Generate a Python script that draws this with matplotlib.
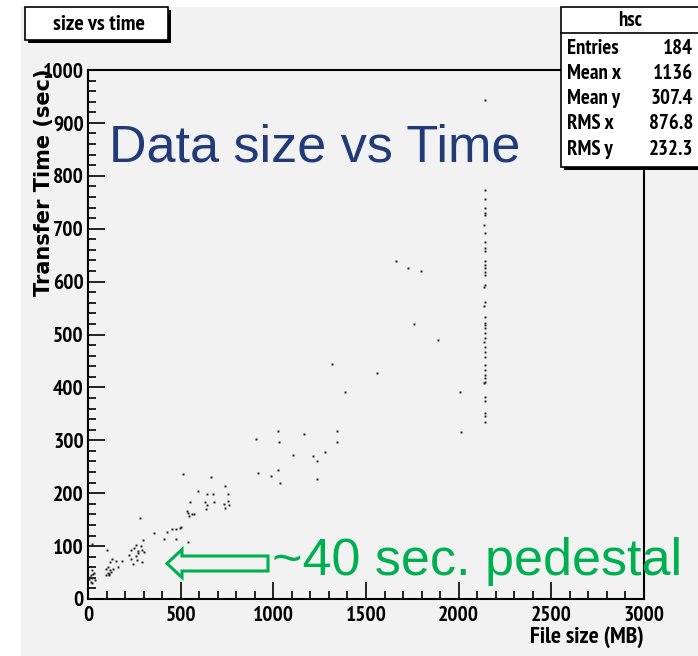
import numpy as np
import matplotlib
matplotlib.use("Agg")
import matplotlib.pyplot as plt
from matplotlib import font_manager
from matplotlib.font_manager import FontProperties
from matplotlib.patches import Rectangle, FancyArrow
import matplotlib.patheffects as pe

# titik data (file size MB, transfer time s)
low_x = [23, 34, 16, 29, 11, 20, 39, 14, 23, 5, 20, 103,
         131, 151, 183, 117, 162, 108, 135, 99, 119, 126, 106, 97, 112, 115,
         259, 286, 247, 234, 291, 268, 300, 272, 220, 257, 234, 266, 245, 291, 281, 299]
low_y = [55, 50, 45, 47, 41, 39, 36, 33, 31, 37, 104, 93,
         76, 72, 72, 70, 61, 61, 57, 56, 55, 51, 50, 45, 47, 45,
         103, 101, 97, 93, 93, 91, 88, 87, 83, 81, 76, 74, 66, 69, 154, 112]

mid_x = [356, 425, 453, 473, 496, 503, 410, 475, 540, 513, 664, 739, 594, 642, 675,
         755, 550, 631, 680, 642, 637, 755, 734, 761, 739, 534, 540, 563, 574, 545]
mid_y = [124, 127, 132, 132, 134, 136, 114, 113, 108, 236, 230, 214, 204, 198, 198,
         198, 183, 183, 183, 177, 171, 185, 180, 178, 172, 166, 162, 161, 161, 156]

high_x = [907, 917, 1024, 1164, 1342, 1029, 1342, 1277, 1105, 1213, 1234, 1024, 986,
          1034, 1234, 1315, 1558, 1387, 2006, 2011, 1660, 1725, 1795, 1758, 1887]
high_y = [302, 238, 318, 312, 318, 297, 297, 278, 273, 270, 260, 244, 233,
          220, 227, 445, 427, 392, 392, 315, 639, 625, 620, 519, 490]

col_x = [2142, 2141, 2143, 2140, 2142, 2141, 2139, 2141, 2143, 2141, 2142, 2140, 2143,
         2141, 2142, 2140, 2144, 2137, 2143, 2138, 2142, 2141, 2140, 2143, 2141, 2142,
         2139, 2141, 2143, 2142, 2141, 2140, 2142, 2141, 2144, 2139, 2142, 2141, 2143, 2141, 2142]
col_y = [943, 774, 756, 740, 729, 725, 707, 691, 675, 663, 658, 639, 631, 625, 619, 612,
         594, 589, 562, 553, 533, 521, 518, 512, 502, 493, 486, 477, 467, 458, 442, 433,
         423, 417, 411, 408, 382, 375, 352, 334, 345]

stat_names = ["Entries", "Mean x", "Mean y", "RMS x", "RMS y"]
stat_vals = ["184", "1136", "307.4", "876.8", "232.3"]


# cari font sempit tebal (gaya ROOT yang tergencet)
def cari(pred):
    for f in font_manager.fontManager.ttflist:
        if pred(f):
            return f.fname
    return None


def tebal(f):
    return str(f.weight) in ("700", "bold")


fn = cari(lambda f: "Narrow" in f.name and tebal(f))
efek = []
if fn is None:
    fn = cari(lambda f: "Narrow" in f.name)
    efek = [pe.withStroke(linewidth=0.9, foreground="black")]


def fp(size):
    if fn:
        return FontProperties(fname=fn, size=size)
    return FontProperties(family="DejaVu Sans", weight="bold", stretch="condensed", size=size)


W, H = 698, 656
bg = "#f2f2f2"


def fx(px):
    return px / W


def fy(py):
    return 1 - py / H


fig = plt.figure(figsize=(W / 100, H / 100), dpi=100, facecolor="white")
fig.patches.append(Rectangle((fx(21), 0), 1, fy(7), transform=fig.transFigure,
                             color=bg, zorder=-5))

ax = fig.add_axes([fx(88), fy(599), (644 - 88) / W, (599 - 70) / H])
ax.set_facecolor(bg)
for xs, ys in [(low_x, low_y), (mid_x, mid_y), (high_x, high_y), (col_x, col_y)]:
    ax.plot(xs, ys, "s", ms=1.4, color="#1a1a1a", mew=0)
ax.set_xlim(0, 3000)
ax.set_ylim(0, 1000)
ax.set_xticks(np.arange(0, 3001, 500))
ax.set_xticks(np.arange(0, 3001, 100), minor=True)
ax.set_yticks(np.arange(0, 1001, 100))
ax.set_yticks(np.arange(0, 1001, 20), minor=True)
ax.tick_params(which="both", direction="in", width=1.2)
ax.tick_params(which="major", length=12)
ax.tick_params(which="minor", length=6)
ax.tick_params(axis="y", pad=3)
ax.tick_params(axis="x", pad=5)
for lab in ax.get_xticklabels() + ax.get_yticklabels():
    lab.set_fontproperties(fp(15.5))
    lab.set_path_effects(efek)
for s in ax.spines.values():
    s.set_linewidth(1.5)

# label sumbu y: teks tegak terlihat memanjang, pakai huruf yang lebar
fig.text(fx(44), fy(69), "Transfer Time (sec)", rotation=90, ha="center", va="top",
         fontsize=15, fontweight="bold", family=["DejaVu Sans"])
fig.text(fx(644), fy(637), "File size (MB)", ha="right", va="center",
         fontproperties=fp(17), path_effects=efek)

# kotak judul
fig.patches.append(Rectangle((fx(28), fy(43)), 143 / W, 33 / H, transform=fig.transFigure,
                             facecolor="black", zorder=2))
fig.patches.append(Rectangle((fx(25), fy(40)), 143 / W, 33 / H, transform=fig.transFigure,
                             facecolor="white", edgecolor="black", lw=1.2, zorder=3))
fig.text(fx(99), fy(25), "size vs time", ha="center", va="center", fontproperties=fp(16),
         path_effects=efek, zorder=4)

# kotak statistik
fig.patches.append(Rectangle((fx(564), fy(170)), 140 / W, 160 / H, transform=fig.transFigure,
                             facecolor="black", zorder=2))
fig.patches.append(Rectangle((fx(561), fy(167)), 140 / W, 160 / H, transform=fig.transFigure,
                             facecolor="white", edgecolor="black", lw=1.2, zorder=3))
fig.lines.append(plt.Line2D([fx(561), 1], [fy(33), fy(33)], transform=fig.transFigure,
                            color="black", lw=1.2, zorder=4))
fig.text(fx(630), fy(20), "hsc", ha="center", va="center", fontproperties=fp(15),
         path_effects=efek, zorder=5)
for i, (n, v) in enumerate(zip(stat_names, stat_vals)):
    yy = 48 + i * 25.3
    fig.text(fx(567), fy(yy), n, ha="left", va="center", fontproperties=fp(15),
             path_effects=efek, zorder=5)
    fig.text(fx(693), fy(yy), v, ha="right", va="center", fontproperties=fp(15),
             path_effects=efek, zorder=5)

# teks slide
fig.text(fx(109), fy(162), "Data size vs Time", ha="left", va="baseline",
         fontsize=37.5, fontweight="normal", family=["Liberation Sans", "DejaVu Sans"],
         color="#213a78")
fig.text(fx(272), fy(575), "~40 sec. pedestal", ha="left", va="baseline",
         fontsize=37.5, fontweight="normal", family=["Liberation Sans", "DejaVu Sans"],
         color="#00b050")
arr = FancyArrow(fx(268), fy(563.5), fx(167) - fx(268), 0, width=15 / H,
                 head_width=28 / H, head_length=15 / W, length_includes_head=True,
                 transform=fig.transFigure, facecolor="none", edgecolor="#00b050", lw=2.2)
fig.patches.append(arr)

fig.savefig("out.png", dpi=100, facecolor="white")
